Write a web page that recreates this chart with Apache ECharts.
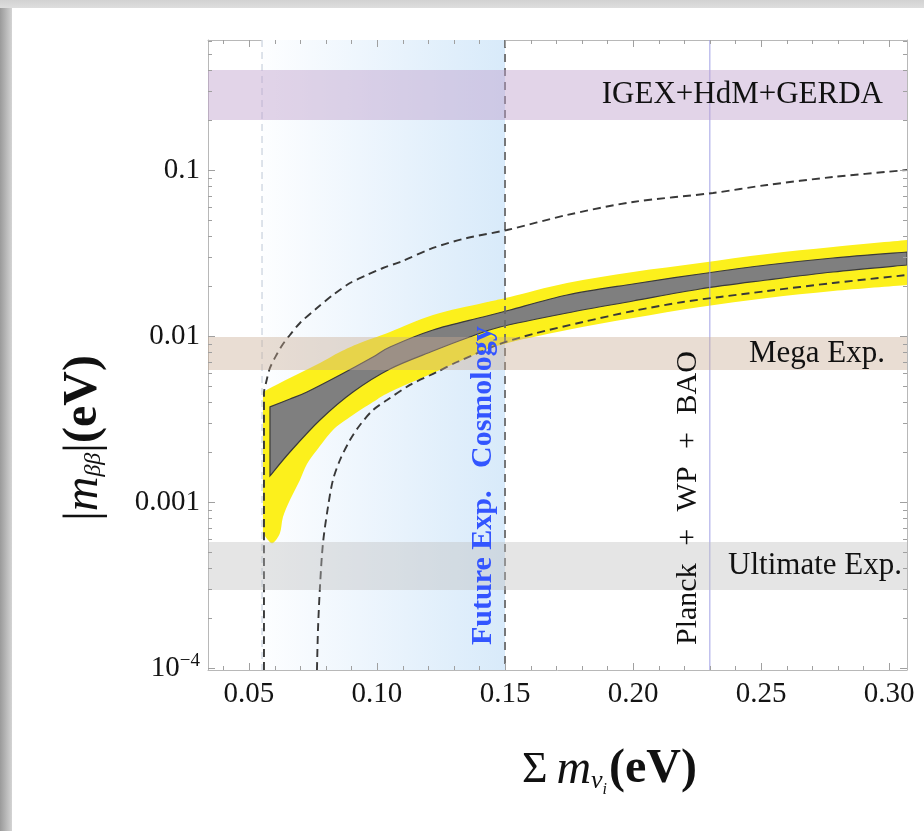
<!DOCTYPE html>
<html>
<head>
<meta charset="utf-8">
<script src="https://cdn.jsdelivr.net/npm/echarts@6/dist/echarts.min.js"></script>
<style>
html,body{margin:0;padding:0;width:924px;height:831px;overflow:hidden;background:#ffffff;}
#edgeLeft{position:absolute;left:0;top:0;width:12px;height:831px;background:linear-gradient(to right,#9a9a9a,#d4d4d4);}
#edgeTop{position:absolute;left:0;top:0;width:924px;height:8px;background:linear-gradient(to bottom,#d2d2d2,#dedede);}
#chart{position:absolute;left:0;top:0;width:924px;height:831px;}
</style>
</head>
<body>
<div id="edgeLeft"></div>
<div id="edgeTop"></div>
<div id="chart"></div>
<script>
// ---------------- data ----------------
const xTickValues = [0.05, 0.10, 0.15, 0.20, 0.25, 0.30];
const xMinorTickValues = [0.04, 0.06, 0.07, 0.08, 0.09, 0.11, 0.12, 0.13, 0.14, 0.16, 0.17, 0.18, 0.19,
  0.21, 0.22, 0.23, 0.24, 0.26, 0.27, 0.28, 0.29];
const yTickValues = [0.0001, 0.001, 0.01, 0.1];
const yTickLabels = ['10^-4', '0.001', '0.01', '0.1'];
const yMinorTickValues = [0.0002, 0.0003, 0.0004, 0.0005, 0.0006, 0.0007, 0.0008, 0.0009,
  0.002, 0.003, 0.004, 0.005, 0.006, 0.007, 0.008, 0.009,
  0.02, 0.03, 0.04, 0.05, 0.06, 0.07, 0.08, 0.09,
  0.2, 0.3, 0.4, 0.5, 0.6];

// outer (yellow) band edges
const yellowUpper = [[0.05547, 0.00460], [0.06211, 0.00521], [0.06992, 0.00598], [0.07773, 0.00688],
  [0.08555, 0.00801], [0.09336, 0.00907], [0.10508, 0.01057], [0.12188, 0.01338], [0.14141, 0.01580],
  [0.15195, 0.01718], [0.17422, 0.02085], [0.20000, 0.02430], [0.22617, 0.02754], [0.25234, 0.03119],
  [0.27813, 0.03436], [0.30703, 0.03787]];
const yellowLower = [[0.05547, 0.000650], [0.05742, 0.000590], [0.05938, 0.000566], [0.06211, 0.000650],
  [0.06328, 0.000812], [0.06600, 0.001028], [0.06992, 0.001358], [0.07266, 0.001694], [0.07656, 0.002056],
  [0.08281, 0.002715], [0.08945, 0.00325], [0.09844, 0.00400], [0.10508, 0.00460], [0.12188, 0.00598],
  [0.13516, 0.00737], [0.14805, 0.00883], [0.17422, 0.01087], [0.20000, 0.01283], [0.22617, 0.01496],
  [0.25234, 0.01694], [0.27813, 0.01866], [0.30703, 0.02029]];
// inner (grey) band edges
const grayUpper = [[0.0582, 0.00374], [0.0660, 0.00417], [0.07266, 0.00460], [0.08555, 0.00582],
  [0.09844, 0.00747], [0.10508, 0.00858], [0.12188, 0.01087], [0.14141, 0.01301], [0.15195, 0.01434],
  [0.17422, 0.01766], [0.20000, 0.02057], [0.22617, 0.02362], [0.25234, 0.02677], [0.27813, 0.02951],
  [0.30703, 0.03206]];
const grayLower = [[0.0582, 0.001435], [0.0660, 0.00200], [0.07773, 0.00312], [0.09063, 0.00460],
  [0.10508, 0.00633], [0.12188, 0.00812], [0.13516, 0.00973], [0.14805, 0.01133], [0.17422, 0.01376],
  [0.20000, 0.01625], [0.22617, 0.01919], [0.25234, 0.02174], [0.27813, 0.02430], [0.30703, 0.02677]];
// dashed boundary curves
const upperDashed = [[0.05586, 0.0000972], [0.05586, 0.00454], [0.05664, 0.00521], [0.0582, 0.00642],
  [0.06094, 0.00779], [0.06328, 0.00895], [0.06600, 0.01014], [0.06992, 0.01198], [0.07656, 0.01475],
  [0.08281, 0.01766], [0.08945, 0.02085], [0.09609, 0.02330], [0.10234, 0.02568], [0.10898, 0.02790],
  [0.12188, 0.03390], [0.13516, 0.03892], [0.15078, 0.04351], [0.17422, 0.05358], [0.20000, 0.06418],
  [0.23125, 0.07270], [0.25234, 0.08121], [0.27813, 0.09075], [0.30703, 0.1000]];
const lowerDashed = [[0.07656, 0.0000972], [0.07695, 0.000169], [0.07773, 0.000308], [0.07891, 0.000566],
  [0.08086, 0.000933], [0.08281, 0.001358], [0.08555, 0.00179], [0.08945, 0.00236], [0.09336, 0.00291],
  [0.09844, 0.00358], [0.10391, 0.00411], [0.11289, 0.00507], [0.12344, 0.00607], [0.13125, 0.00697],
  [0.14805, 0.00895], [0.16094, 0.01028], [0.18047, 0.01214], [0.20000, 0.01415], [0.21953, 0.01603],
  [0.23398, 0.01718], [0.25234, 0.01866], [0.27813, 0.02085], [0.30703, 0.02330]];

// horizontal experimental bands
const bandNames = ['IGEX+HdM+GERDA', 'Mega Exp.', 'Ultimate Exp.'];
const bandLow = [0.2, 0.00624, 0.000295];
const bandHigh = [0.4, 0.00986, 0.000574];

// vertical reference lines
const nhMinimumX = 0.0551;
const futureCosmologyX = 0.15;
const planckX = 0.23;
const annotationLabels = ['Future Exp.   Cosmology', 'Planck\u2002\u200a+\u2002\u200aWP\u2002\u200a+\u2002\u200aBAO'];
const annotationLineX = [futureCosmologyX, planckX];

// ---------------- layout / style ----------------
const X_MIN = 0.034, X_MAX = 0.307, Y_MIN = 0.0000972, Y_MAX = 0.607;
const serif = "'Liberation Serif','DejaVu Serif','Times New Roman',serif";
const frameColor = '#b8b8b8';
const tickColor = '#a0a0a0';
const bandColors = ['rgba(190,160,205,0.45)', 'rgba(200,170,145,0.40)', 'rgba(190,190,190,0.40)'];
const bandLabelInset = [24, 22, 5];
const annotationColors = ['#3355ff', '#111111'];
const annotationWeights = ['bold', 'normal'];

const chart = echarts.init(document.getElementById('chart'), null, { renderer: 'canvas' });

function xAxisDef(position, withLabel) {
  return {
    type: 'value', position: position, min: X_MIN, max: X_MAX,
    axisLine: { show: true, onZero: false, lineStyle: { color: frameColor, width: 1 } },
    axisTick: { show: false },
    axisLabel: withLabel ? {
      show: true, customValues: xTickValues, formatter: v => Number(v).toFixed(2),
      fontFamily: serif, fontSize: 29, color: '#141414', margin: 10
    } : { show: false },
    splitLine: { show: false }
  };
}
function yAxisDef(position, withLabel) {
  return {
    type: 'log', logBase: 10, position: position, min: Y_MIN, max: Y_MAX,
    axisLine: { show: true, onZero: false, lineStyle: { color: frameColor, width: 1 } },
    axisTick: { show: false },
    axisLabel: withLabel ? {
      show: true, customValues: yTickValues,
      formatter: v => {
        const i = yTickValues.findIndex(t => Math.abs(t - v) / t < 1e-6);
        const s = i >= 0 ? yTickLabels[i] : String(v);
        if (s.indexOf('^') >= 0) {
          const p = s.split('^');
          return '{b|' + p[0] + '}{s|' + p[1].replace('-', '\u2212') + '}';
        }
        return s;
      },
      fontFamily: serif, fontSize: 29, color: '#141414', margin: 8,
      rich: {
        b: { fontFamily: serif, fontSize: 29, color: '#141414' },
        s: { fontFamily: serif, fontSize: 19, color: '#141414', padding: [0, 0, 14, 0] }
      }
    } : { show: false },
    splitLine: { show: false }
  };
}

const xMain = xAxisDef('bottom', true);
xMain.name = '{n|\u03A3\u2009}{i|m}{sub|\u03BD}{ss|i}{b|(eV)}';
xMain.nameLocation = 'middle';
xMain.nameGap = 72;
xMain.nameTextStyle = {
  padding: [0, 0, 0, 104],
  rich: {
    n: { fontFamily: serif, fontSize: 44, color: '#111' },
    i: { fontFamily: serif, fontSize: 48, fontStyle: 'italic', color: '#111' },
    sub: { fontFamily: serif, fontSize: 26, fontStyle: 'italic', color: '#111', padding: [22, 0, 0, 0] },
    ss: { fontFamily: serif, fontSize: 16, fontStyle: 'italic', color: '#111', padding: [40, 2, 0, 0] },
    b: { fontFamily: serif, fontSize: 48, fontWeight: 'bold', color: '#111' }
  }
};

const yMain = yAxisDef('left', true);
yMain.name = '{t||}{i|m}{sub|\u03B2\u03B2}{t||}{b|(eV)}';
yMain.nameLocation = 'middle';
yMain.nameRotate = 90;
yMain.nameGap = 100;
yMain.nameTextStyle = {
  padding: [0, 166, 0, 0],
  rich: {
    t: { fontFamily: serif, fontSize: 48, color: '#111' },
    i: { fontFamily: serif, fontSize: 48, fontStyle: 'italic', color: '#111' },
    sub: { fontFamily: serif, fontSize: 24, fontStyle: 'italic', color: '#111', padding: [20, 0, 0, 0] },
    b: { fontFamily: serif, fontSize: 48, fontWeight: 'bold', color: '#111' }
  }
};

// Catmull-Rom spline through pixel points (open), appended to a path string
function splinePath(pts, start) {
  let d = start ? 'M' + pts[0][0] + ' ' + pts[0][1] : 'L' + pts[0][0] + ' ' + pts[0][1];
  for (let i = 0; i < pts.length - 1; i++) {
    const p0 = pts[i - 1] || pts[i], p1 = pts[i], p2 = pts[i + 1], p3 = pts[i + 2] || pts[i + 1];
    const c1 = [p1[0] + (p2[0] - p0[0]) / 6, p1[1] + (p2[1] - p0[1]) / 6];
    const c2 = [p2[0] - (p3[0] - p1[0]) / 6, p2[1] - (p3[1] - p1[1]) / 6];
    d += ' C' + c1[0] + ' ' + c1[1] + ' ' + c2[0] + ' ' + c2[1] + ' ' + p2[0] + ' ' + p2[1];
  }
  return d;
}

function bandSeries(name, upper, lower, style, z) {
  return {
    type: 'custom', name: name, coordinateSystem: 'cartesian2d',
    clip: true, z: z, silent: true,
    data: upper.concat(lower),
    renderItem: (params, api) => {
      if (params.dataIndex !== 0) return null;
      const up = upper.map(p => api.coord(p));
      const lo = lower.map(p => api.coord(p)).reverse();
      const d = splinePath(up, true) + ' ' + splinePath(lo, false) + ' Z';
      return { type: 'path', shape: { pathData: d }, style: style };
    }
  };
}

function tickSeries(name, values, dim, len) {
  return {
    type: 'custom', name: name, coordinateSystem: 'cartesian2d',
    clip: false, z: 10, silent: true,
    data: values.map(v => dim === 'x' ? [v, Y_MIN] : [X_MIN, v]),
    renderItem: (params, api) => {
      const cs = params.coordSys;
      const p = api.coord([api.value(0), api.value(1)]);
      const st = { stroke: tickColor, lineWidth: 1 };
      if (dim === 'x') {
        const x = Math.round(p[0]) + 0.5;
        return { type: 'group', children: [
          { type: 'line', shape: { x1: x, y1: cs.y + cs.height, x2: x, y2: cs.y + cs.height - len }, style: st },
          { type: 'line', shape: { x1: x, y1: cs.y, x2: x, y2: cs.y + len }, style: st }
        ] };
      }
      const y = Math.round(p[1]) + 0.5;
      return { type: 'group', children: [
        { type: 'line', shape: { x1: cs.x, y1: y, x2: cs.x + len, y2: y }, style: st },
        { type: 'line', shape: { x1: cs.x + cs.width, y1: y, x2: cs.x + cs.width - len, y2: y }, style: st }
      ] };
    }
  };
}

function vLineSeries(name, xValue, style, z) {
  return {
    type: 'custom', name: name, coordinateSystem: 'cartesian2d',
    clip: true, z: z, silent: true,
    data: [[xValue, Y_MIN]],
    renderItem: (params, api) => {
      const cs = params.coordSys;
      const x = api.coord([api.value(0), api.value(1)])[0];
      return { type: 'line', shape: { x1: x, y1: cs.y, x2: x, y2: cs.y + cs.height }, style: style };
    }
  };
}

const option = {
  animation: false,
  backgroundColor: 'transparent',
  grid: { left: 208, right: 17, top: 40, bottom: 161, containLabel: false },
  xAxis: [xMain, xAxisDef('top', false)],
  yAxis: [yMain, yAxisDef('right', false)],
  series: [
    {
      type: 'custom', name: 'Future Exp. Cosmology region', coordinateSystem: 'cartesian2d',
      clip: true, z: 1, silent: true,
      data: [[nhMinimumX, futureCosmologyX]],
      renderItem: (params, api) => {
        const cs = params.coordSys;
        const x0 = api.coord([api.value(0), Y_MIN])[0];
        const x1 = api.coord([api.value(1), Y_MIN])[0];
        return {
          type: 'rect', shape: { x: x0, y: cs.y, width: x1 - x0, height: cs.height },
          style: { fill: new echarts.graphic.LinearGradient(0, 0, 1, 0, [
            { offset: 0, color: '#fdfeff' }, { offset: 1, color: '#d8eafa' }]) }
        };
      }
    },
    vLineSeries('NH minimum', nhMinimumX, { stroke: '#d4dae4', lineWidth: 1.5, lineDash: [7, 5] }, 2),
    bandSeries('outer band', yellowUpper, yellowLower, { fill: '#fcf01c' }, 3),
    bandSeries('inner band', grayUpper, grayLower, { fill: '#7f7f7f', stroke: '#3a3a3a', lineWidth: 1.2 }, 4),
    {
      type: 'line', name: 'upper bound', data: upperDashed, z: 5, symbol: 'none', smooth: 0.3, silent: true,
      lineStyle: { color: '#383838', width: 1.9, type: [8, 5] }
    },
    {
      type: 'line', name: 'lower bound', data: lowerDashed, z: 5, symbol: 'none', smooth: 0.3, silent: true,
      lineStyle: { color: '#383838', width: 1.9, type: [8, 5] }
    },
    vLineSeries('Future Exp. Cosmology', futureCosmologyX, { stroke: '#6a6a6a', lineWidth: 1.8, lineDash: [8, 6] }, 5),
    vLineSeries('Planck + WP + BAO', planckX, { stroke: '#a0a0e6', lineWidth: 1 }, 5),
    {
      type: 'custom', name: 'experimental bands', coordinateSystem: 'cartesian2d',
      clip: true, z: 6, silent: true,
      data: bandNames.map((n, i) => ({ name: n, value: [bandLow[i], bandHigh[i]] })),
      renderItem: (params, api) => {
        const cs = params.coordSys;
        const i = params.dataIndex;
        const yTop = api.coord([X_MIN, api.value(1)])[1];
        const yBot = api.coord([X_MIN, api.value(0)])[1];
        return {
          type: 'group', children: [
            { type: 'rect', shape: { x: cs.x, y: yTop, width: cs.width, height: yBot - yTop },
              style: { fill: bandColors[i] } },
            { type: 'text', x: cs.x + cs.width - bandLabelInset[i], y: (yTop + yBot) / 2,
              style: { text: bandNames[i], fill: '#111', font: '31px ' + serif, align: 'right', verticalAlign: 'middle' } }
          ]
        };
      }
    },
    {
      type: 'custom', name: 'annotations', coordinateSystem: 'cartesian2d',
      clip: false, z: 7, silent: true,
      data: annotationLabels.map((t, i) => ({ name: t, value: [annotationLineX[i], Y_MIN] })),
      renderItem: (params, api) => {
        const i = params.dataIndex;
        const p = api.coord([api.value(0), api.value(1)]);
        return {
          type: 'text', x: p[0] - 22, y: p[1] - 25, rotation: Math.PI / 2,
          style: { text: annotationLabels[i], fill: annotationColors[i],
            font: annotationWeights[i] + ' 30px ' + serif, align: 'left', verticalAlign: 'middle' }
        };
      }
    },
    tickSeries('x major ticks', xTickValues, 'x', 7),
    tickSeries('x minor ticks', xMinorTickValues, 'x', 4),
    tickSeries('y major ticks', yTickValues, 'y', 7),
    tickSeries('y minor ticks', yMinorTickValues, 'y', 4)
  ]
};
chart.setOption(option);
</script>
</body>
</html>
